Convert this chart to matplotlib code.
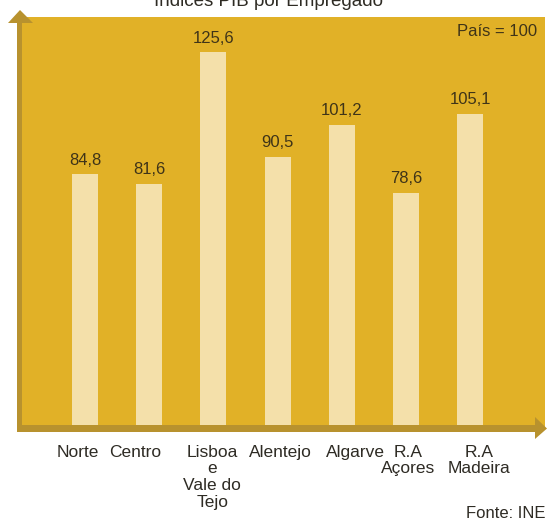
import matplotlib
matplotlib.use("Agg")
import matplotlib.pyplot as plt
from matplotlib.patches import Polygon
from matplotlib.transforms import ScaledTranslation

# ---- data ----
categories = ["Norte", "Centro", "Lisboa\ne\nVale do\nTejo", "Alentejo",
              "Algarve", "R.A\nAçores", "R.A\nMadeira"]
values = [84.8, 81.6, 125.6, 90.5, 101.2, 78.6, 105.1]
value_labels = ["84,8", "81,6", "125,6", "90,5", "101,2", "78,6", "105,1"]
title = "Índices PIB por Empregado"
note = "País = 100"
source = "Fonte: INE"

W, H = 547, 522
plt.rcParams['font.family'] = ['Liberation Sans', 'DejaVu Sans']
fig = plt.figure(figsize=(W / 100, H / 100), dpi=100)
fig.patch.set_facecolor("white")

def fx(px):
    return px / W

def fy(py):
    return 1 - py / H

panel_col = "#E1B127"
axis_col = "#B8922E"
bar_col = "#F4E0AA"
text_col = "#2e2b24"
val_col = "#3f3418"

# axes: x 20..545 px, y 17..428 px
ax_left, ax_right, ax_top, ax_bot = 20, 545, 17, 428
ax = fig.add_axes([fx(ax_left), fy(ax_bot), fx(ax_right - ax_left),
                   (ax_bot - ax_top) / H])
ax.set_facecolor(panel_col)
for s in ax.spines.values():
    s.set_visible(False)

spacing = 64.2
x0 = 85
xs = list(range(len(values)))
ax.set_xlim((ax_left - x0) / spacing, (ax_right - x0) / spacing)
ax.set_ylim(0, (ax_bot - ax_top) / 2.99)

ax.bar(xs, values, width=26 / spacing, color=bar_col, zorder=2)
for x, v, lab in zip(xs, values, value_labels):
    ax.annotate(lab, (x, v), xytext=(0, 5), textcoords="offset points",
                ha="center", va="bottom", fontsize=12, color=val_col)

ax.set_yticks([])
ax.set_xticks(xs)
ax.set_xticklabels(categories, fontsize=12.5, color=text_col,
                   linespacing=1.15, va="top")
ax.tick_params(axis="x", length=0, pad=12)
# slight horizontal label shifts as in the reference layout (pixels)
label_shift_px = [-7, -14, -1, 3, 14, 2, 9]
for lbl, dpx in zip(ax.get_xticklabels(), label_shift_px):
    lbl.set_transform(lbl.get_transform() +
                      ScaledTranslation(dpx / 100, 0, fig.dpi_scale_trans))

# axis lines with arrowheads (figure pixel coords -> fraction)
def poly(pts, col):
    fig.add_artist(Polygon([(fx(a), fy(b)) for a, b in pts], closed=True,
                           facecolor=col, edgecolor="none",
                           transform=fig.transFigure, zorder=5))

poly([(17, 22), (22, 22), (22, 432), (17, 432)], axis_col)
poly([(8, 23), (33, 23), (20, 10)], axis_col)
poly([(17, 425), (537, 425), (537, 432), (17, 432)], axis_col)
poly([(535, 417), (547, 428.5), (535, 439)], axis_col)

fig.text(fx(268), fy(6), title, ha="center", va="baseline",
         fontsize=13.5, color=text_col)
fig.text(fx(537), fy(32), note, ha="right", va="center",
         fontsize=12, color=val_col)
fig.text(fx(545), fy(514), source, ha="right", va="center",
         fontsize=12, color=text_col)

fig.savefig("out.png", dpi=100, facecolor="white")
